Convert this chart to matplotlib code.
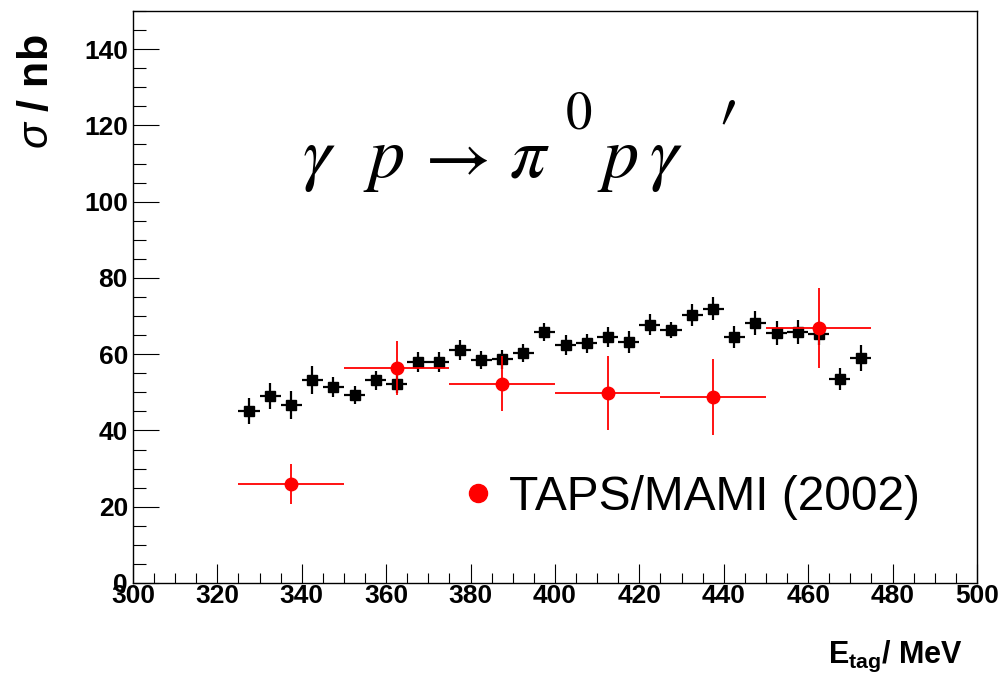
import matplotlib
matplotlib.use("Agg")
import matplotlib.pyplot as plt
from matplotlib.ticker import MultipleLocator
from matplotlib.lines import Line2D

plt.rcParams['font.family'] = ['Liberation Sans', 'DejaVu Sans']
plt.rcParams['mathtext.fontset'] = 'custom'
plt.rcParams['mathtext.rm'] = 'Liberation Sans'
plt.rcParams['mathtext.bf'] = 'Liberation Sans:bold'
plt.rcParams['mathtext.it'] = 'Liberation Sans:italic'

# this measurement (5 MeV bins)
e_bins = [327.5, 332.5, 337.5, 342.5, 347.5, 352.5, 357.5, 362.5, 367.5, 372.5,
          377.5, 382.5, 387.5, 392.5, 397.5, 402.5, 407.5, 412.5, 417.5, 422.5,
          427.5, 432.5, 437.5, 442.5, 447.5, 452.5, 457.5, 462.5, 467.5, 472.5]
sigma = [45.1, 49.0, 46.7, 53.2, 51.4, 49.3, 53.2, 52.2, 58.0, 58.0,
         61.1, 58.5, 58.7, 60.3, 65.8, 62.4, 62.9, 64.5, 63.2, 67.7,
         66.4, 70.3, 71.9, 64.5, 68.2, 65.6, 65.8, 65.3, 53.5, 59.0]
sigma_err = [3.4, 3.5, 3.6, 3.7, 2.7, 2.3, 2.5, 2.3, 2.6, 2.6,
             2.5, 2.4, 2.5, 2.3, 2.4, 2.5, 2.5, 2.6, 2.8, 2.8,
             2.1, 2.8, 3.0, 2.8, 3.2, 3.2, 3.2, 3.0, 3.0, 3.4]
e_halfwidth = 2.5

# TAPS/MAMI (2002), 25 MeV bins
taps_e = [337.5, 362.5, 387.5, 412.5, 437.5, 462.5]
taps_sigma = [26.0, 56.4, 52.2, 49.8, 48.8, 66.9]
taps_err = [5.2, 7.0, 7.2, 9.7, 10.0, 10.5]
taps_halfwidth = 12.5

fig = plt.figure(figsize=(10.05, 6.9), dpi=100)
ax = fig.add_axes([0.1323, 0.1551, 0.8398, 0.829])

ax.errorbar(e_bins, sigma, yerr=sigma_err, xerr=e_halfwidth, fmt='s', color='black',
            ms=6.5, elinewidth=1.6, capsize=0, zorder=3)
ax.errorbar(taps_e, taps_sigma, yerr=taps_err, xerr=taps_halfwidth, fmt='o', color='red',
            ms=9, elinewidth=1.3, capsize=0, zorder=4)

ax.set_xlim(300, 500)
ax.set_ylim(0, 150)
ax.xaxis.set_major_locator(MultipleLocator(20))
ax.xaxis.set_minor_locator(MultipleLocator(5))
ax.yaxis.set_major_locator(MultipleLocator(20))
ax.yaxis.set_minor_locator(MultipleLocator(5))
ax.tick_params(axis='both', which='both', direction='in', top=False, right=False, width=0.8)
ax.tick_params(axis='y', which='major', length=18.7, pad=3.6)
ax.tick_params(axis='y', which='minor', length=9)
ax.tick_params(axis='x', which='major', length=13.7, pad=1)
ax.tick_params(axis='x', which='minor', length=7.2)
for lab in ax.get_xticklabels() + ax.get_yticklabels():
    lab.set_fontsize(19)
    lab.set_fontweight('bold')
for sp in ax.spines.values():
    sp.set_linewidth(1.0)

ax.set_ylabel(r'$\sigma$ / nb', fontsize=31, fontweight='bold')
ax.yaxis.set_label_coords(-0.090, 0.858)
ax.set_xlabel(r'E$_{\mathbf{tag}}$/ MeV', fontsize=22, fontweight='bold', loc='right')
ax.xaxis.set_label_coords(0.983, -0.098)

# reaction formula, laid out glyph by glyph like the original TLatex
formula_parts = [r'$\gamma$', r'$p$', r'$\rightarrow$', r'$\pi$', r'$p$', r'$\gamma$']
formula_x = [0.200, 0.272, 0.333, 0.445, 0.550, 0.612]
for part, xp in zip(formula_parts, formula_x):
    ax.text(xp, 0.710, part, transform=ax.transAxes, fontsize=52, ha='left',
            va='baseline', math_fontfamily='stix')
ax.text(0.513, 0.795, '0', transform=ax.transAxes, fontsize=38, ha='left',
        va='baseline', family='STIXGeneral')
ax.text(0.690, 0.738, '\u2032', transform=ax.transAxes, fontsize=64, ha='left',
        va='baseline', family='STIXGeneral')

handle = Line2D([], [], marker='o', ls='none', color='red', markersize=13)
ax.legend([handle], ['TAPS/MAMI (2002)'], loc='center left', bbox_to_anchor=(0.392, 0.150),
          frameon=False, fontsize=34.5, handlelength=0.6, handletextpad=0.35,
          borderpad=0, borderaxespad=0)

fig.savefig('out.png', dpi=100)
